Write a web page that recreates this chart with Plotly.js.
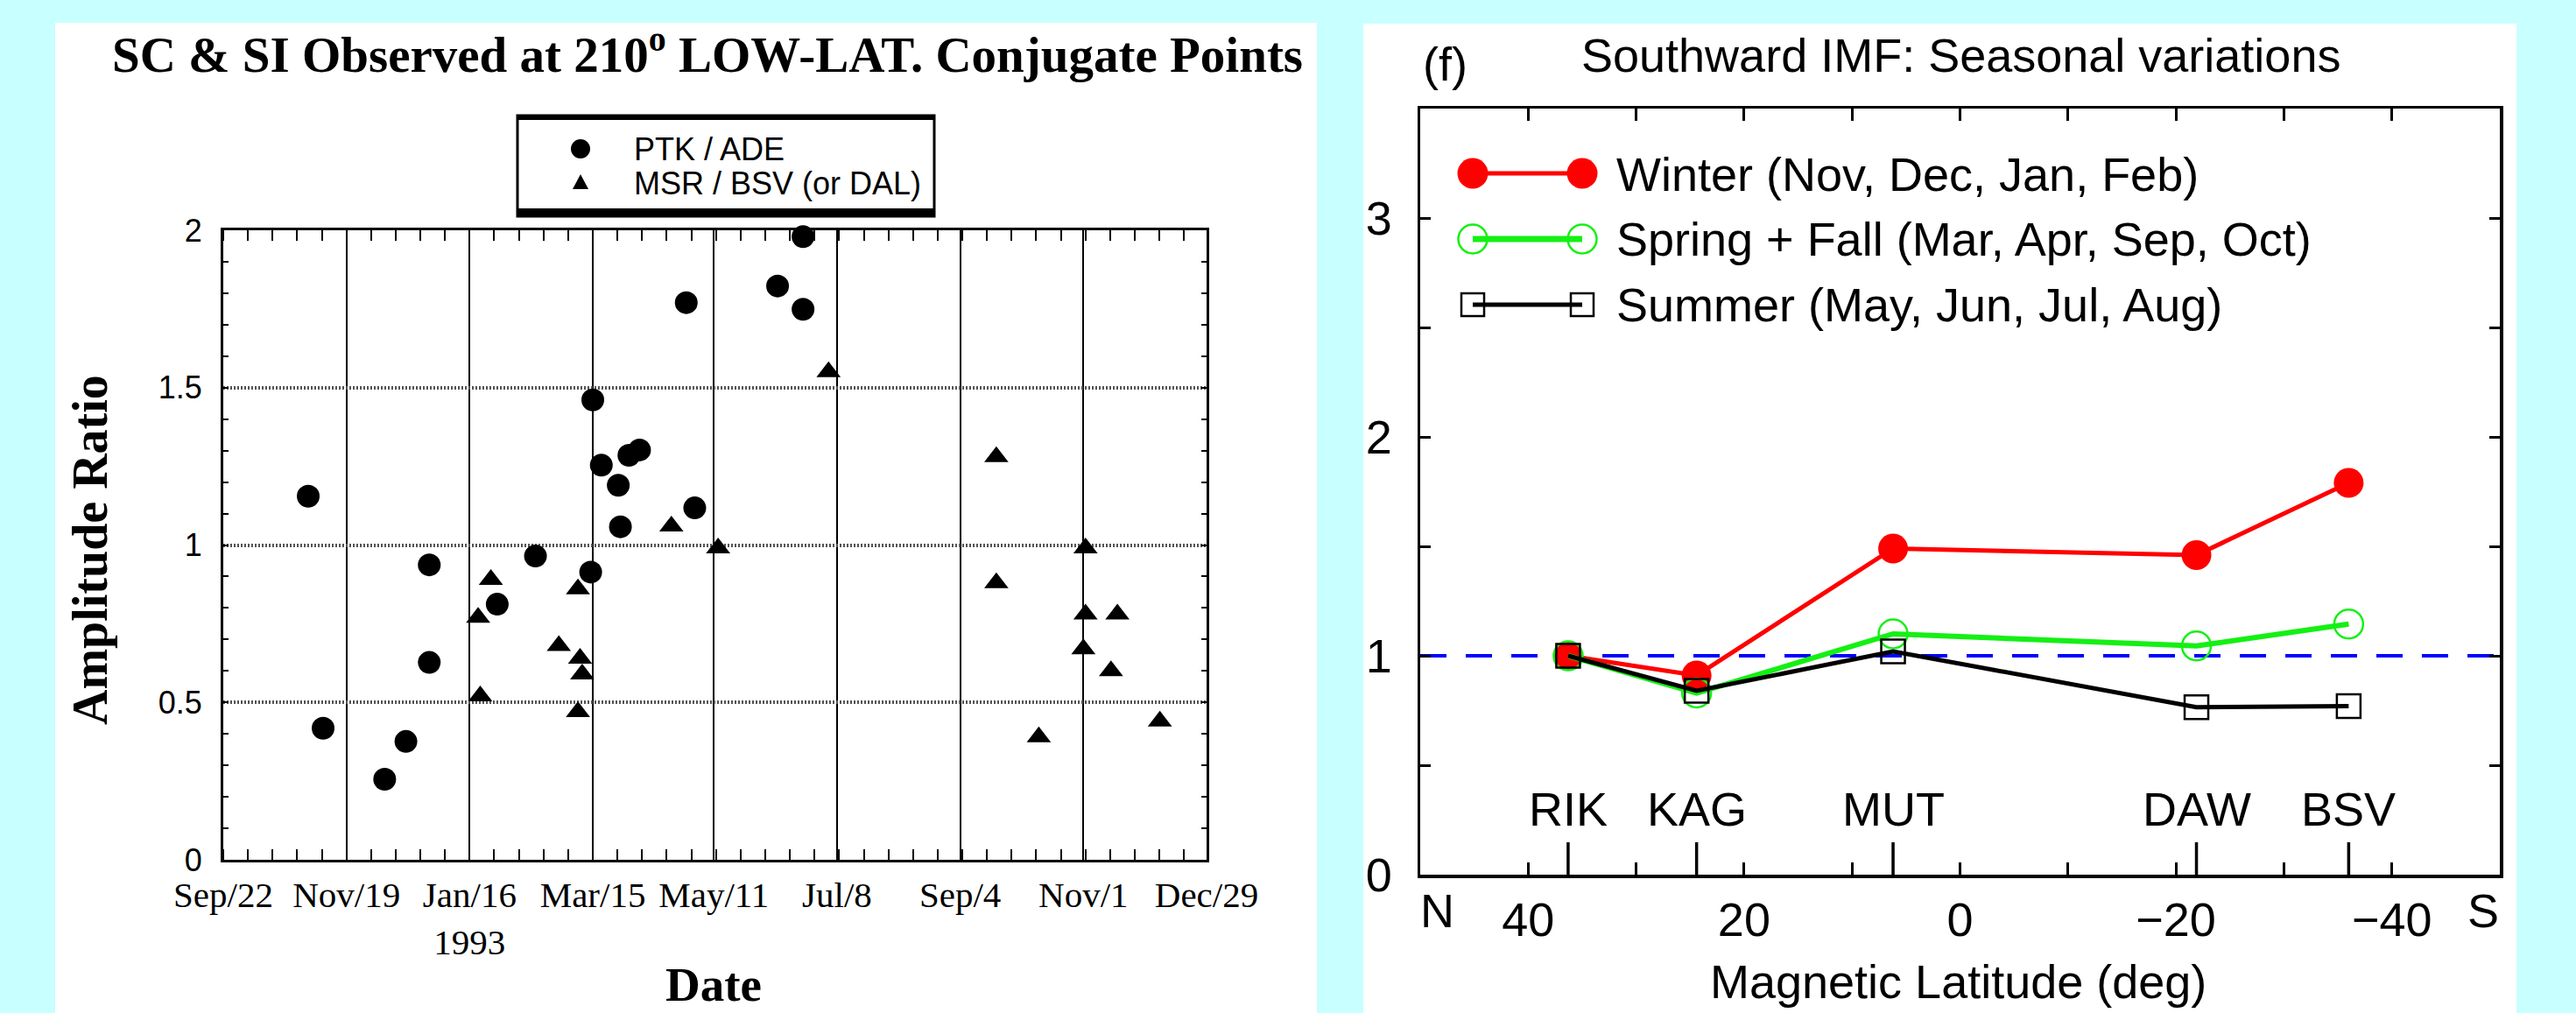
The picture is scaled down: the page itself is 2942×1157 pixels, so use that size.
<!DOCTYPE html>
<html><head><meta charset="utf-8">
<script src="https://cdn.plot.ly/plotly-3.0.1.min.js"></script>
<style>html,body{margin:0;padding:0;background:#c8ffff;overflow:hidden}#chart{width:2942px;height:1157px}</style>
</head><body><div id="chart"></div>
<script>
// ---------- Left panel data (SC & SI amplitude ratio) ----------
const dateTicks = ['1992-09-22','1992-11-19','1993-01-16','1993-03-15','1993-05-11','1993-07-08','1993-09-04','1993-11-01','1993-12-29'];
const dateTickLabels = ['Sep/22','Nov/19','Jan/16<br>1993','Mar/15','May/11','Jul/8','Sep/4','Nov/1','Dec/29'];
const ratioTicks = [0, 0.5, 1, 1.5, 2];
const ratioTickLabels = ['0','0.5','1','1.5','2'];

const ptkDates = ['1992-11-01','1992-11-08','1992-12-07','1992-12-17','1992-12-28','1992-12-28','1993-01-29','1993-02-16','1993-03-14','1993-03-15','1993-03-19','1993-03-27','1993-03-28','1993-04-01','1993-04-06','1993-04-28','1993-05-02','1993-06-10','1993-06-22','1993-06-22'];
const ptkRatio = [1.155, 0.418, 0.256, 0.376, 0.937, 0.627, 0.812, 0.965, 0.914, 1.461, 1.254, 1.19, 1.058, 1.285, 1.302, 1.77, 1.118, 1.823, 1.98, 1.749];

const msrDates = ['1993-01-26','1993-01-20','1993-01-21','1993-02-27','1993-03-09','1993-03-10','1993-03-08','1993-03-08','1993-04-21','1993-05-13','1993-07-04','1993-09-21','1993-09-21','1993-10-11','1993-11-02','1993-11-01','1993-11-02','1993-11-14','1993-11-17','1993-12-07'];
const msrRatio = [0.89, 0.77, 0.52, 0.68, 0.64, 0.59, 0.47, 0.86, 1.06, 0.99, 1.55, 1.28, 0.88, 0.39, 0.99, 0.67, 0.78, 0.60, 0.78, 0.44];

// ---------- Right panel data (Southward IMF seasonal variations) ----------
const stations = ['RIK','KAG','MUT','DAW','BSV'];
const magLat = [36.3, 24.4, 6.2, -21.9, -36.0];
const winter = [1.0, 0.91, 1.49, 1.46, 1.79];
const springFall = [1.0, 0.83, 1.10, 1.045, 1.145];
const summer = [1.0, 0.84, 1.02, 0.765, 0.77];
const latTicks = [40, 20, 0, -20, -40];
const latTickLabels = ['40','20','0','\u221220','\u221240'];
const ampTicks = [0, 1, 2, 3];
const ampTickLabels = ['0','1','2','3'];

const seriesNames = ['Winter (Nov, Dec, Jan, Feb)','Spring + Fall (Mar, Apr, Sep, Oct)','Summer (May, Jun, Jul, Aug)'];
const leftLegendNames = ['PTK / ADE','MSR / BSV (or DAL)'];

// ---------- layout helpers ----------
const W = 2942, H = 1157;
const X = p => p / W;
const Y = p => 1 - p / H;
const SANS = 'Liberation Sans, Arial, sans-serif';
const SERIF = 'Liberation Serif, Times New Roman, serif';
const RED = '#ff0000', GREEN = '#14f014', BLACK = '#000000';

const traces = [
  {x: ptkDates, y: ptkRatio, type: 'scatter', mode: 'markers', xaxis: 'x', yaxis: 'y', cliponaxis: false,
   marker: {symbol: 'circle', size: 26, color: BLACK}},
  {x: msrDates, y: msrRatio, type: 'scatter', mode: 'markers', xaxis: 'x', yaxis: 'y', cliponaxis: false,
   marker: {symbol: 'triangle-up', size: 24, color: BLACK}},
  {x: magLat, y: winter, type: 'scatter', mode: 'lines+markers', xaxis: 'x2', yaxis: 'y2', name: seriesNames[0],
   line: {color: RED, width: 5}, marker: {symbol: 'circle', size: 34, color: RED}},
  {x: magLat, y: springFall, type: 'scatter', mode: 'lines+markers', xaxis: 'x2', yaxis: 'y2', name: seriesNames[1],
   line: {color: GREEN, width: 6}, marker: {symbol: 'circle-open', size: 33, color: GREEN, line: {width: 2.5, color: GREEN}}},
  {x: magLat, y: summer, type: 'scatter', mode: 'lines+markers', xaxis: 'x2', yaxis: 'y2', name: seriesNames[2],
   line: {color: BLACK, width: 5}, marker: {symbol: 'square-open', size: 27, color: BLACK, line: {width: 2.5, color: BLACK}}}
];

const shapes = [
  // white panels
  {type: 'rect', xref: 'paper', yref: 'paper', x0: X(63), x1: X(1504), y0: Y(26), y1: 0, fillcolor: 'white', line: {width: 0}, layer: 'below'},
  {type: 'rect', xref: 'paper', yref: 'paper', x0: X(1557), x1: X(2874), y0: Y(27), y1: 0, fillcolor: 'white', line: {width: 0}, layer: 'below'},
  // left legend box
  {type: 'rect', xref: 'paper', yref: 'paper', x0: X(591), x1: X(1067), y0: Y(132), y1: Y(247), fillcolor: 'white', line: {width: 3, color: BLACK}},
  {type: 'rect', xref: 'paper', yref: 'paper', x0: X(591), x1: X(1067), y0: Y(238), y1: Y(248), fillcolor: BLACK, line: {width: 0}},
  {type: 'rect', xref: 'paper', yref: 'paper', x0: X(591), x1: X(1067), y0: Y(132), y1: Y(137), fillcolor: BLACK, line: {width: 0}},
  {type: 'circle', xref: 'paper', yref: 'paper', x0: X(652), x1: X(674), y0: Y(159), y1: Y(181), fillcolor: BLACK, line: {width: 0}},
  {type: 'path', xref: 'paper', yref: 'paper', path: `M ${X(654)} ${Y(216)} L ${X(672)} ${Y(216)} L ${X(663)} ${Y(199)} Z`, fillcolor: BLACK, line: {width: 0}},
  // reference line at ratio 1
  {type: 'line', xref: 'x2 domain', yref: 'y2', x0: 0, x1: 1, y0: 1, y1: 1, line: {color: '#0000ff', width: 4, dash: '30px,22px'}, layer: 'below'}
];
// station tick marks
magLat.forEach(lat => shapes.push({type: 'line', xref: 'x2', yref: 'paper', x0: lat, x1: lat, y0: Y(999), y1: Y(962), line: {color: BLACK, width: 3.5}}));

// right legend samples
function legendSample(py, color, lw, kind) {
  shapes.push({type: 'line', xref: 'paper', yref: 'paper', x0: X(1682), x1: X(1807), y0: Y(py), y1: Y(py), line: {color: color, width: lw}});
  [1682, 1807].forEach(px => {
    if (kind === 'square') {
      shapes.push({type: 'rect', xref: 'paper', yref: 'paper', x0: X(px - 13), x1: X(px + 13), y0: Y(py - 13), y1: Y(py + 13), line: {color: color, width: 2.5}, fillcolor: 'rgba(0,0,0,0)'});
    } else {
      const r = kind === 'filled' ? 17.5 : 16.5;
      shapes.push({type: 'circle', xref: 'paper', yref: 'paper', x0: X(px - r), x1: X(px + r), y0: Y(py - r), y1: Y(py + r),
        line: {color: color, width: kind === 'filled' ? 0 : 2.5}, fillcolor: kind === 'filled' ? color : 'rgba(0,0,0,0)'});
    }
  });
}
legendSample(198, RED, 5, 'filled');
legendSample(273, GREEN, 7, 'open');
legendSample(348, BLACK, 5, 'square');

const f54 = {family: SANS, size: 54, color: BLACK};
function note(text, px, py, font, extra) {
  return Object.assign({text: text, x: X(px), y: Y(py), xref: 'paper', yref: 'paper', xanchor: 'center', yanchor: 'middle', showarrow: false, font: font}, extra || {});
}
const annotations = [
  note('<b>SC &amp; SI Observed at 210<sup>o</sup> LOW-LAT. Conjugate Points</b>', 808, 58, {family: SERIF, size: 57, color: BLACK}),
  note('<b>Amplitude Ratio</b>', 103, 628, {family: SERIF, size: 56, color: BLACK}, {textangle: -90}),
  note('<b>Date</b>', 815, 1124, {family: SERIF, size: 55, color: BLACK}),
  note(leftLegendNames[0], 722, 171, {family: SANS, size: 36, color: BLACK}, {xanchor: 'left'}),
  note(leftLegendNames[1], 722, 209, {family: SANS, size: 36, color: BLACK}, {xanchor: 'left'}),
  note('Southward IMF: Seasonal variations', 2239, 63, f54),
  note('(f)', 1623, 73, f54, {xanchor: 'left'}),
  note('N', 1641, 1040, f54),
  note('S', 2836, 1040, f54),
  note('Magnetic Latitude (deg)', 2236, 1121, f54),
  note(seriesNames[0], 1844, 199, f54, {xanchor: 'left'}),
  note(seriesNames[1], 1844, 273, f54, {xanchor: 'left'}),
  note(seriesNames[2], 1844, 348, f54, {xanchor: 'left'})
];
stations.forEach((s, i) => annotations.push({text: s, x: magLat[i], xref: 'x2', y: Y(924), yref: 'paper', xanchor: 'center', yanchor: 'middle', showarrow: false, font: f54}));

const layout = {
  width: W, height: H, autosize: false,
  margin: {l: 0, r: 0, t: 0, b: 0, pad: 0},
  paper_bgcolor: '#c8ffff', plot_bgcolor: 'white',
  showlegend: false, hovermode: false,
  xaxis: {
    domain: [X(255), X(1378)], anchor: 'y', type: 'date',
    range: [dateTicks[0], dateTicks[dateTicks.length - 1]],
    tickmode: 'array', tickvals: dateTicks, ticktext: dateTickLabels,
    ticks: '', showgrid: true, gridcolor: BLACK, gridwidth: 2, zeroline: false,
    showline: true, linecolor: BLACK, linewidth: 3, mirror: 'allticks',
    tickfont: {family: SERIF, size: 41, color: BLACK}, ticklabelstandoff: 2,
    minor: {ticks: 'inside', ticklen: 12, tickwidth: 2, tickcolor: BLACK, tickmode: 'linear', tick0: dateTicks[0], dtick: 58 / 5 * 86400000, showgrid: false}
  },
  yaxis: {
    domain: [Y(982), Y(263)], anchor: 'x', range: [0, 2],
    tickmode: 'array', tickvals: ratioTicks, ticktext: ratioTickLabels,
    ticks: 'inside', ticklen: 6, tickwidth: 2, tickcolor: BLACK,
    showgrid: true, gridcolor: '#555555', gridwidth: 4, griddash: '2px,2px', zeroline: false,
    showline: true, linecolor: BLACK, linewidth: 3, mirror: 'allticks',
    tickfont: {family: SANS, size: 36, color: BLACK}, ticklabelstandoff: 14,
    minor: {ticks: 'inside', ticklen: 6, tickwidth: 2, tickcolor: BLACK, tickmode: 'linear', tick0: 0, dtick: 0.1, showgrid: false}
  },
  xaxis2: {
    domain: [X(1622), X(2855)], anchor: 'y2', range: [50, -50],
    tickmode: 'array', tickvals: latTicks, ticktext: latTickLabels,
    ticks: 'inside', ticklen: 14, tickwidth: 3, tickcolor: BLACK,
    showgrid: false, zeroline: false,
    showline: true, linecolor: BLACK, linewidth: 3.5, mirror: 'allticks',
    tickfont: f54, ticklabelstandoff: 2,
    minor: {ticks: 'inside', ticklen: 14, tickwidth: 3, tickcolor: BLACK, tickmode: 'linear', tick0: 0, dtick: 10, showgrid: false}
  },
  yaxis2: {
    domain: [Y(999), Y(124)], anchor: 'x2', range: [0, 3.5],
    tickmode: 'array', tickvals: ampTicks, ticktext: ampTickLabels,
    ticks: 'inside', ticklen: 12, tickwidth: 3, tickcolor: BLACK,
    showgrid: false, zeroline: false,
    showline: true, linecolor: BLACK, linewidth: 3.5, mirror: 'allticks',
    tickfont: f54, ticklabelstandoff: 18,
    minor: {ticks: 'inside', ticklen: 12, tickwidth: 3, tickcolor: BLACK, tickmode: 'linear', tick0: 0, dtick: 0.5, showgrid: false}
  },
  shapes: shapes,
  annotations: annotations
};

Plotly.newPlot('chart', traces, layout, {staticPlot: true, displayModeBar: false});
</script>
</body></html>
